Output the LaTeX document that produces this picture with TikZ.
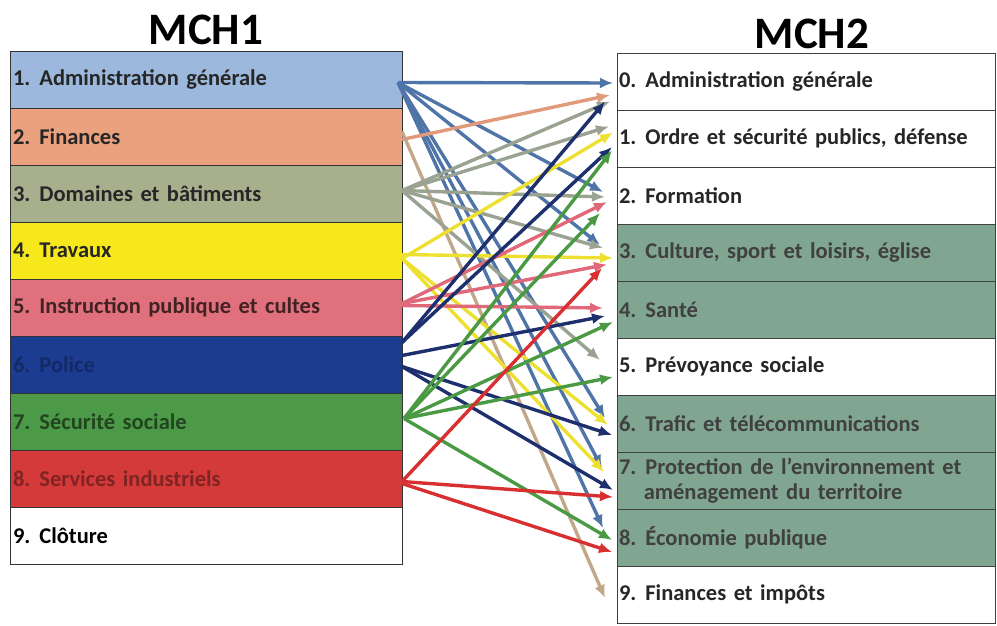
\documentclass[tikz,border=0pt]{standalone}
\usepackage{fontspec}
\setmainfont{Carlito}
\usepackage{tikz}
\usetikzlibrary{arrows.meta}
\usetikzlibrary{positioning}
\definecolor{fadm}{HTML}{9CB8DC}
\definecolor{ffin}{HTML}{EBA07E}
\definecolor{fdom}{HTML}{A8AF8C}
\definecolor{ftrav}{HTML}{F7E81C}
\definecolor{finst}{HTML}{E0707C}
\definecolor{fpol}{HTML}{1C3C92}
\definecolor{fsec}{HTML}{4C9A48}
\definecolor{fserv}{HTML}{D53A3A}
\definecolor{fgreen}{HTML}{80A591}
\definecolor{cadm}{HTML}{4F74A8}
\definecolor{cfin}{HTML}{E09A7A}
\definecolor{ctan}{HTML}{C2A88A}
\definecolor{cdom}{HTML}{9AA292}
\definecolor{ctrav}{HTML}{EEE030}
\definecolor{cinst}{HTML}{E06878}
\definecolor{cpol}{HTML}{1E2F6E}
\definecolor{csec}{HTML}{4A9A44}
\definecolor{cserv}{HTML}{D83030}
\newcommand{\nb}[1]{#1.\hspace{9pt}}

\begin{document}
\begin{tikzpicture}[x=1pt,y=-1pt,node distance=0pt,
  every node/.style={font=\fontsize{22.5}{25}\selectfont\bfseries,text=black!85},
  lrow/.style={draw=black!80,line width=1pt,minimum width=392pt,minimum height=57pt,text width=386pt,inner xsep=3pt,align=left,outer sep=0pt},
  rrow/.style={draw=black!75,line width=1pt,minimum width=378pt,minimum height=57pt,text width=374pt,inner xsep=2pt,align=left,outer sep=0pt},
  title/.style={font=\fontsize{45}{50}\selectfont\bfseries,text=black},
  lnk/.style={line width=3.4pt,-{Latex[length=13pt,width=11pt]}}]
  \useasboundingbox (0,0) rectangle (997,625);
  \node[title] (t1) at (206,30) {MCH1};
  \node[title] (t2) at (812,34) {MCH2};

  \node[lrow,fill=fadm] (l1) at (206,79.5) {\nb1Administration générale};
  \node[lrow,fill=ffin,below=of l1] (l2) {\nb2Finances};
  \node[lrow,fill=fdom,below=of l2] (l3) {\nb3Domaines et bâtiments};
  \node[lrow,fill=ftrav,below=of l3] (l4) {\nb4Travaux};
  \node[lrow,fill=finst,below=of l4,text=black!70!finst] (l5) {\nb5Instruction publique et cultes};
  \node[lrow,fill=fpol,below=of l5,text=black!30!fpol] (l6) {\nb6Police};
  \node[lrow,fill=fsec,below=of l6,text=black!55!fsec] (l7) {\nb7Sécurité sociale};
  \node[lrow,fill=fserv,below=of l7,text=black!40!fserv] (l8) {\nb8Services industriels};
  \node[lrow,fill=white,below=of l8,text=black] (l9) {\nb9Clôture};

  \node[rrow,fill=white] (r0) at (806,81.5) {\nb0Administration générale};
  \node[rrow,fill=white,below=of r0] (r1) {\nb1Ordre et sécurité publics, défense};
  \node[rrow,fill=white,below=of r1] (r2) {\nb2Formation};
  \node[rrow,fill=fgreen,below=of r2,text=black!75] (r3) {\nb3Culture, sport et loisirs, église};
  \node[rrow,fill=fgreen,below=of r3,text=black!75] (r4) {\nb4Santé};
  \node[rrow,fill=white,below=of r4] (r5) {\nb5Prévoyance sociale};
  \node[rrow,fill=fgreen,below=of r5,text=black!75] (r6) {\nb6Trafic et télécommunications};
  \node[rrow,fill=fgreen,below=of r6,text=black!75] (r7) {\nb7Protection de l’environnement et\\\hspace*{1.1em}aménagement du territoire};
  \node[rrow,fill=fgreen,below=of r7,text=black!75] (r8) {\nb8Économie publique};
  \node[rrow,fill=white,below=of r8] (r9) {\nb9Finances et impôts};

  \draw[lnk,cadm] ([shift={(-4,3)}]l1.east) -- ([shift={(-4,1.5)}]r0.west);
  \draw[lnk,cadm] ([shift={(-4,3)}]l1.east) -- ([shift={(-14,-3.5)}]r2.west);
  \draw[lnk,cadm] ([shift={(-4,3)}]l1.east) -- ([shift={(-17,-7.5)}]r3.west);
  \draw[lnk,cadm] ([shift={(-4,3)}]l1.east) -- ([shift={(-12,-5.5)}]r6.west);
  \draw[lnk,cadm] ([shift={(-4,3)}]l1.east) -- ([shift={(-15,-12.5)}]r7.west);
  \draw[lnk,cadm] ([shift={(-4,3)}]l1.east) -- ([shift={(-14,-9.5)}]r8.west);
  \draw[lnk,cfin] ([shift={(0,3)}]l2.east) -- ([shift={(-7,13.5)}]r0.west);
  \draw[lnk,ctan] ([shift={(0,-5)}]l2.east) -- ([shift={(-12,3.5)}]r9.west);
  \draw[lnk,cdom] ([shift={(0,-3)}]l3.east) -- ([shift={(-7,20)}]r0.west);
  \draw[lnk,cdom] ([shift={(0,-3)}]l3.east) -- ([shift={(-8,-12)}]r1.west);
  \draw[lnk,cdom] ([shift={(0,-3)}]l3.east) -- ([shift={(-12,1.5)}]r2.west);
  \draw[lnk,cdom] ([shift={(0,-3)}]l3.east) -- ([shift={(-14,-4.5)}]r3.west);
  \draw[lnk,cdom] ([shift={(0,-3)}]l3.east) -- ([shift={(-17,-6.5)}]r5.west);
  \draw[lnk,ctrav] ([shift={(0,8)}]l4.east) -- ([shift={(-4,-6)}]r1.west);
  \draw[lnk,ctrav] ([shift={(0,4)}]l4.east) -- ([shift={(-4,5.5)}]r3.west);
  \draw[lnk,ctrav] ([shift={(0,8)}]l4.east) -- ([shift={(-9,1.5)}]r6.west);
  \draw[lnk,ctrav] ([shift={(0,8)}]l4.east) -- ([shift={(-13,-8.5)}]r7.west);
  \draw[lnk,cinst] ([shift={(0,-4)}]l5.east) -- ([shift={(-10,6.5)}]r2.west);
  \draw[lnk,cinst] ([shift={(0,-4)}]l5.east) -- ([shift={(-10,12)}]r3.west);
  \draw[lnk,cinst] ([shift={(0,-2)}]l5.east) -- ([shift={(-14,-1.5)}]r4.west);
  \draw[lnk,cpol] ([shift={(0,-22)}]l6.east) -- ([shift={(-12,20)}]r0.west);
  \draw[lnk,cpol] ([shift={(0,-22)}]l6.east) -- ([shift={(-5,8.5)}]r1.west);
  \draw[lnk,cpol] ([shift={(0,-9)}]l6.east) -- ([shift={(-12,6.5)}]r4.west);
  \draw[lnk,cpol] ([shift={(0,2)}]l6.east) -- ([shift={(-5,11.5)}]r6.west);
  \draw[lnk,cpol] ([shift={(0,2)}]l6.east) -- ([shift={(-4,9.5)}]r7.west);
  \draw[lnk,csec] ([shift={(2,-3)}]l7.east) -- ([shift={(-5,12)}]r1.west);
  \draw[lnk,csec] ([shift={(2,-3)}]l7.east) -- ([shift={(-17,17.5)}]r2.west);
  \draw[lnk,csec] ([shift={(2,-3)}]l7.east) -- ([shift={(-4,12.5)}]r4.west);
  \draw[lnk,csec] ([shift={(2,-3)}]l7.east) -- ([shift={(-4,10.5)}]r5.west);
  \draw[lnk,csec] ([shift={(2,-3)}]l7.east) -- ([shift={(-5,2.5)}]r8.west);
  \draw[lnk,cserv] ([shift={(0,3)}]l8.east) -- ([shift={(-15,15.5)}]r3.west);
  \draw[lnk,cserv] ([shift={(0,3)}]l8.east) -- ([shift={(-4,16.5)}]r7.west);
  \draw[lnk,cserv] ([shift={(0,5)}]l8.east) -- ([shift={(-5,14.5)}]r8.west);
\end{tikzpicture}
\end{document}
